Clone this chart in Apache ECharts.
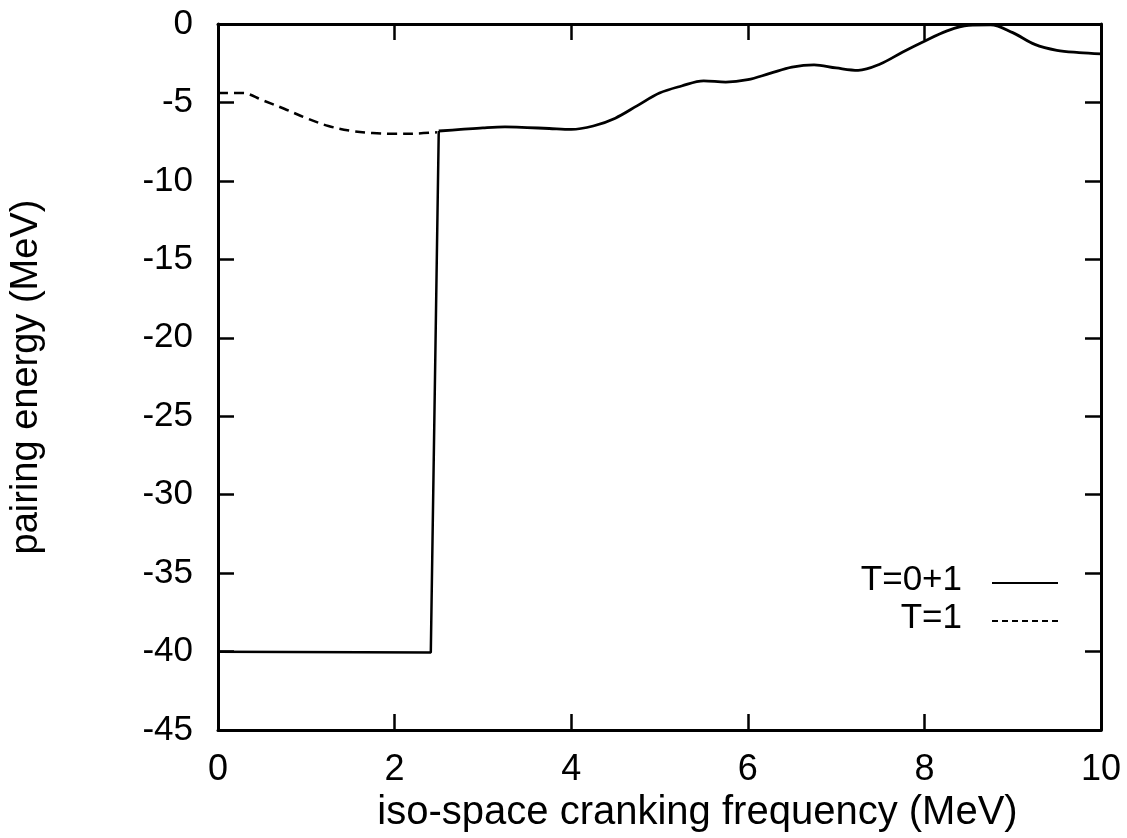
<!DOCTYPE html>
<html>
<head>
<meta charset="utf-8">
<title>pairing energy</title>
<script src="https://cdn.jsdelivr.net/npm/echarts@6/dist/echarts.min.js"></script>
<style>
  html, body { margin: 0; padding: 0; background: #fff; }
  #main { width: 1127px; height: 838px; }
</style>
</head>
<body>
<div id="main"></div>
<script>
  // T=0+1 : flat part + jump (drawn straight)
  const t01Jump = [[0, -40], [2.41, -40.05], [2.5, -6.82]];
  // T=0+1 : wavy part after the jump (smoothed)
  const t01Curve = [
    [2.5, -6.82], [2.75, -6.72], [3.0, -6.62], [3.25, -6.56], [3.5, -6.6],
    [3.75, -6.66], [4.0, -6.72], [4.25, -6.5], [4.5, -6.0], [4.75, -5.2],
    [5.0, -4.4], [5.25, -3.95], [5.5, -3.62], [5.75, -3.7], [6.0, -3.55],
    [6.25, -3.15], [6.5, -2.75], [6.75, -2.6], [7.0, -2.8], [7.25, -2.95],
    [7.5, -2.55], [7.75, -1.8], [8.0, -1.1], [8.25, -0.45], [8.5, -0.08],
    [8.75, -0.05], [9.0, -0.55], [9.25, -1.3], [9.5, -1.68], [9.75, -1.82],
    [10, -1.9]
  ];
  // T=1 (dashed)
  const t1Curve = [
    [0, -4.4], [0.28, -4.4], [0.5, -4.85], [0.75, -5.4], [1.0, -6.0],
    [1.25, -6.5], [1.5, -6.8], [1.75, -6.95], [2.0, -7.0], [2.25, -6.98],
    [2.48, -6.9]
  ];
  const legendNames = ['T=0+1', 'T=1'];

  const FONT = '"Liberation Sans", Arial, Helvetica, sans-serif';

  const tick = { show: true, inside: true, length: 16, lineStyle: { color: '#000', width: 2.5 } };
  const line = { show: true, onZero: false, lineStyle: { color: '#000', width: 3 } };

  let chart = echarts.init(document.getElementById('main'));

  let option = {
    backgroundColor: '#fff',
    animation: false,
    grid: { left: 218, right: 26, top: 24, bottom: 105 },
    xAxis: [
      {
        type: 'value', min: 0, max: 10, interval: 2, position: 'bottom',
        axisLine: line, axisTick: tick, splitLine: { show: false },
        axisLabel: { color: '#000', fontSize: 36, fontFamily: FONT, margin: 22 },
        name: 'iso-space cranking frequency (MeV)', nameLocation: 'middle', nameGap: 46,
        nameTextStyle: { color: '#000', fontSize: 40, fontFamily: FONT, padding: [0, 0, 0, 76] }
      },
      {
        type: 'value', min: 0, max: 10, interval: 2, position: 'top',
        axisLine: line, axisTick: tick, splitLine: { show: false },
        axisLabel: { show: false }
      }
    ],
    yAxis: [
      {
        type: 'value', min: -45, max: 0, interval: 5, position: 'left',
        axisLine: line, axisTick: tick, splitLine: { show: false },
        axisLabel: { color: '#000', fontSize: 35, fontFamily: FONT, margin: 25 },
        name: 'pairing energy (MeV)', nameLocation: 'middle', nameGap: 172,
        nameTextStyle: { color: '#000', fontSize: 38, fontFamily: FONT }
      },
      {
        type: 'value', min: -45, max: 0, interval: 5, position: 'right',
        axisLine: line, axisTick: tick, splitLine: { show: false },
        axisLabel: { show: false }
      }
    ],
    series: [
      {
        name: legendNames[0], type: 'line', data: t01Jump, showSymbol: false,
        lineStyle: { color: '#000', width: 2.5 }
      },
      {
        name: legendNames[0], type: 'line', data: t01Curve, showSymbol: false, smooth: 0.35,
        lineStyle: { color: '#000', width: 2.8 }
      },
      {
        name: legendNames[1], type: 'line', data: t1Curve, showSymbol: false, smooth: 0.35,
        lineStyle: { color: '#000', width: 2.5, type: [10, 6] }
      }
    ],
    graphic: [
      { type: 'text', right: 1127 - 962, top: 563,
        style: { text: legendNames[0], fill: '#000', font: '35px ' + FONT } },
      { type: 'line', shape: { x1: 992, y1: 583, x2: 1058, y2: 583 },
        style: { stroke: '#000', lineWidth: 2 } },
      { type: 'text', right: 1127 - 962, top: 601,
        style: { text: legendNames[1], fill: '#000', font: '35px ' + FONT } },
      { type: 'line', shape: { x1: 992, y1: 621, x2: 1058, y2: 621 },
        style: { stroke: '#000', lineWidth: 1.8, lineDash: [6, 4] } }
    ]
  };

  chart.setOption(option);
</script>
</body>
</html>
